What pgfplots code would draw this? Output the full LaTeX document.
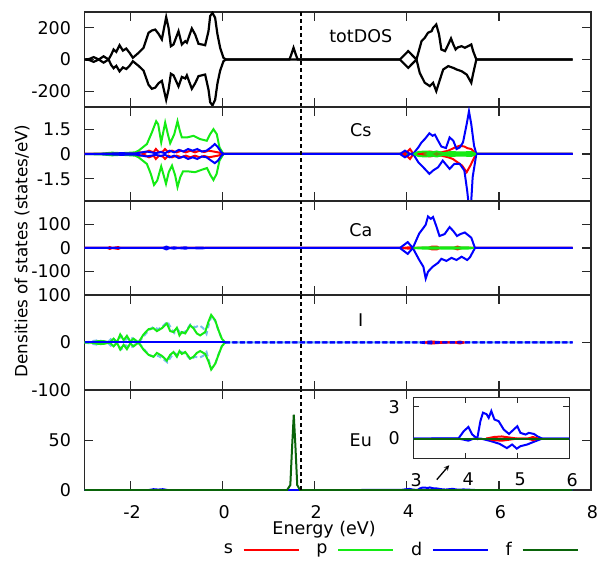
\documentclass[border=0pt]{standalone}
\usepackage{fontspec}
\setmainfont{DejaVu Sans}
\usepackage{pgfplots}
\pgfplotsset{compat=1.18}
\usepackage{pgfplotstable}
\definecolor{cS}{RGB}{255,0,0}
\definecolor{cP}{RGB}{20,235,20}
\definecolor{cD}{RGB}{0,0,255}
\definecolor{cF}{RGB}{10,100,10}
\definecolor{cL}{RGB}{120,190,235}
\definecolor{axc}{RGB}{40,40,40}
\newcommand{\fs}{\fontsize{17.5}{21}\selectfont}

\pgfplotstableread{
x y
3.0 0
3.87 0.02
3.97 0.7
4.06 1.1
4.13 0.4
4.23 0
4.29 1.65
4.34 2.45
4.41 2.3
4.45 1.96
4.50 2.6
4.56 1.8
4.64 1.65
4.74 0.85
4.84 0.44
4.93 0.85
5.00 1.17
5.06 0.54
5.16 0.38
5.22 0.54
5.32 0.44
5.39 0.2
5.48 0
7.6 0
}\EuDup
\pgfplotstableread{
x y
3.0 0
3.87 0
3.97 -0.1
4.06 -0.2
4.16 0
4.30 0
4.50 -0.25
4.66 -0.5
4.80 -0.9
4.90 -0.56
4.99 -0.95
5.06 -0.72
5.19 -0.56
5.32 -0.3
5.48 0
7.6 0
}\EuDdn

\pgfplotsset{
 panel/.style={
  scale only axis, width=506.5pt, anchor=south west,
  xmin=-3, xmax=8, xtick={-2,0,2,4,6,8}, xticklabels={},
  tick align=inside, major tick length=9pt,
  axis line style={line width=1.2pt, axc},
  tick style={line width=1.2pt, axc},
  tick label style={font=\fs, inner sep=0pt},
  yticklabel style={xshift=-13.3pt},
  xticklabel style={yshift=-15pt, xshift=1.5pt},
  every axis plot/.append style={line width=2pt},
 },
 fermi/.style={black, line width=1.8pt, dash pattern=on 4pt off 3pt},
}

\begin{document}
\fs
\begin{tikzpicture}
\path[use as bounding box] (0,0) rectangle (600pt,560pt);

% ---------------- totDOS ----------------
\begin{axis}[panel, at={(84.5pt,453pt)}, height=95pt,
  ymin=-300, ymax=300, ytick={-200,0,200}, yticklabels={-200,0,200}]
\addplot[black, line width=2.2pt] coordinates {(-3,0)(-2.9,3)(-2.8,15)(-2.69,0)(-2.585,20)(-2.477,0)(-2.42,30)(-2.368,63)(-2.31,48)(-2.238,90)(-2.166,56)(-2.093,69)(-2.021,42)(-1.949,11)(-1.826,42)(-1.718,74)(-1.609,169)(-1.537,183)(-1.464,189)(-1.392,162)(-1.32,127)(-1.226,268)(-1.175,200)(-1.124,84)(-1.067,95)(-0.958,179)(-0.886,95)(-0.813,116)(-0.777,106)(-0.669,196)(-0.597,158)(-0.524,99)(-0.452,95)(-0.38,90)(-0.307,179)(-0.271,274)(-0.221,295)(-0.163,263)(-0.112,158)(-0.054,74)(0.018,11)(0.07,0)(1.45,0)(1.49,30)(1.54,74)(1.59,30)(1.63,0)(3.85,0)(4.03,53)(4.21,0)(4.32,116)(4.39,137)(4.46,169)(4.54,179)(4.57,200)(4.64,221)(4.70,158)(4.75,63)(4.83,53)(4.90,95)(4.96,133)(5.01,95)(5.06,63)(5.11,77)(5.19,84)(5.26,74)(5.33,84)(5.40,95)(5.44,53)(5.51,0)(7.6,0)};
\addplot[black, line width=2.2pt] coordinates {(-3,0)(-2.9,-3)(-2.8,-15)(-2.69,0)(-2.585,-20)(-2.477,0)(-2.42,-35)(-2.368,-55)(-2.31,-40)(-2.238,-75)(-2.166,-50)(-2.093,-60)(-2.021,-40)(-1.949,-11)(-1.826,-40)(-1.718,-70)(-1.609,-160)(-1.537,-185)(-1.464,-178)(-1.392,-150)(-1.32,-135)(-1.226,-255)(-1.175,-190)(-1.124,-90)(-1.067,-100)(-0.958,-170)(-0.886,-110)(-0.813,-120)(-0.777,-100)(-0.669,-185)(-0.597,-150)(-0.524,-105)(-0.452,-100)(-0.38,-95)(-0.307,-190)(-0.271,-270)(-0.221,-290)(-0.163,-255)(-0.112,-150)(-0.054,-70)(0.018,-11)(0.07,0)(3.85,0)(4.03,-53)(4.21,0)(4.28,-84)(4.39,-147)(4.50,-168)(4.57,-147)(4.64,-200)(4.72,-126)(4.79,-63)(4.90,-42)(5.01,-53)(5.08,-63)(5.19,-74)(5.30,-95)(5.40,-147)(5.44,-90)(5.51,0)(7.6,0)};
\addplot[fermi] coordinates {(1.7,-300)(1.7,300)};
\node at (axis cs:3,147) {totDOS};
\end{axis}

% ---------------- Cs ----------------
\begin{axis}[panel, at={(84.5pt,359pt)}, height=94pt,
  ymin=-2.84, ymax=2.84, ytick={-1.5,0,1.5}, yticklabels={-1.5,0,1.5}]
\addplot[cP] coordinates {(-3,0)(-2.6,0.03)(-2.4,0.08)(-2.2,0.05)(-2.0,0.08)(-1.9,0.1)(-1.826,0.2)(-1.645,0.6)(-1.537,1.3)(-1.443,1.98)(-1.40,1.8)(-1.334,0.7)(-1.248,1.9)(-1.19,1.2)(-1.139,0.65)(-1.05,1.2)(-0.98,1.98)(-0.93,1.4)(-0.886,1.0)(-0.777,1.0)(-0.633,1.1)(-0.488,0.9)(-0.343,0.8)(-0.271,1.2)(-0.199,1.5)(-0.127,1.2)(-0.069,0.4)(0.018,0)(7.6,0)};
\addplot[cP] coordinates {(-3,0)(-2.6,-0.03)(-2.4,-0.08)(-2.2,-0.05)(-2.0,-0.08)(-1.9,-0.1)(-1.826,-0.2)(-1.645,-0.6)(-1.56,-1.2)(-1.49,-1.87)(-1.42,-1.6)(-1.334,-0.75)(-1.23,-1.8)(-1.17,-1.1)(-1.10,-0.7)(-1.03,-1.3)(-0.98,-2.0)(-0.92,-1.4)(-0.86,-1.05)(-0.75,-1.05)(-0.6,-1.1)(-0.45,-0.95)(-0.34,-0.85)(-0.27,-1.25)(-0.2,-1.57)(-0.13,-1.2)(-0.069,-0.4)(0.018,0)(7.6,0)};
\addplot[cS] coordinates {(-3,0)(-1.9,0)(-1.8,0.1)(-1.7,0.05)(-1.6,0.2)(-1.5,0.1)(-1.45,0.3)(-1.38,0.1)(-1.3,0.15)(-1.25,0.3)(-1.18,0.1)(-1.1,0.2)(-1.0,0.1)(-0.9,0.2)(-0.8,0.1)(-0.7,0.2)(-0.6,0.1)(-0.5,0.2)(-0.4,0.12)(-0.3,0.2)(-0.2,0.15)(-0.1,0.1)(0.02,0)(3.9,0)(4.0,0.1)(4.07,0.3)(4.14,0)(4.3,0.05)(4.5,0.15)(4.6,0.1)(4.75,0.1)(4.9,0.2)(5.05,0.4)(5.15,0.5)(5.25,0.45)(5.32,0.35)(5.4,0.3)(5.5,0)(7.6,0)};
\addplot[cS] coordinates {(-3,0)(-1.9,0)(-1.8,-0.1)(-1.7,-0.05)(-1.6,-0.2)(-1.5,-0.1)(-1.45,-0.3)(-1.38,-0.1)(-1.3,-0.15)(-1.25,-0.3)(-1.18,-0.1)(-1.1,-0.2)(-1.0,-0.1)(-0.9,-0.2)(-0.8,-0.1)(-0.7,-0.2)(-0.6,-0.1)(-0.5,-0.2)(-0.4,-0.12)(-0.3,-0.2)(-0.2,-0.15)(-0.1,-0.1)(0.02,0)(3.9,0)(4.0,-0.1)(4.07,-0.3)(4.14,0)(4.3,-0.05)(4.5,-0.15)(4.6,-0.1)(4.75,-0.1)(4.9,-0.2)(5.0,-0.3)(5.1,-0.5)(5.2,-0.7)(5.3,-1.1)(5.38,-0.7)(5.45,-0.3)(5.5,0)(7.6,0)};
\addplot[cD] coordinates {(-3,0)(-2.5,0.02)(-2.2,0.05)(-1.9,0.03)(-1.75,0.1)(-1.65,0.15)(-1.55,0.1)(-1.45,0.05)(-1.35,0.12)(-1.25,0.05)(-1.15,0.2)(-1.05,0.1)(-0.95,0.25)(-0.85,0.15)(-0.75,0.3)(-0.65,0.2)(-0.55,0.3)(-0.45,0.15)(-0.35,0.2)(-0.25,0.4)(-0.17,0.6)(-0.1,0.4)(-0.03,0.1)(0.02,0)(3.85,0)(3.96,0.2)(4.07,0)(4.15,0.05)(4.25,0.4)(4.32,0.7)(4.39,0.9)(4.49,1.25)(4.56,1.1)(4.61,1.17)(4.68,0.8)(4.75,0.45)(4.85,0.36)(4.93,1.0)(5.01,0.8)(5.08,0.3)(5.15,0.4)(5.22,0.7)(5.30,1.8)(5.35,2.58)(5.40,1.8)(5.46,0.5)(5.51,0)(7.6,0)};
\addplot[cD] coordinates {(-3,0)(-2.5,-0.02)(-2.2,-0.05)(-1.9,-0.03)(-1.75,-0.1)(-1.65,-0.15)(-1.55,-0.1)(-1.45,-0.05)(-1.35,-0.12)(-1.25,-0.05)(-1.15,-0.2)(-1.05,-0.1)(-0.95,-0.25)(-0.85,-0.15)(-0.75,-0.3)(-0.65,-0.2)(-0.55,-0.3)(-0.45,-0.15)(-0.35,-0.2)(-0.25,-0.4)(-0.17,-0.55)(-0.1,-0.4)(-0.03,-0.1)(0.02,0)(3.85,0)(3.96,-0.2)(4.07,0)(4.15,-0.05)(4.25,-0.5)(4.39,-0.9)(4.49,-1.2)(4.57,-1.0)(4.68,-0.8)(4.78,-0.4)(4.93,-0.9)(5.03,-0.6)(5.15,-0.6)(5.25,-1.0)(5.31,-2.2)(5.35,-3.2)(5.40,-2.8)(5.43,-1.4)(5.51,0)(7.6,0)};
\addplot[cP] coordinates {(4.15,0)(4.25,0.12)(4.4,0.15)(4.55,0.1)(4.65,0.15)(4.8,0.05)(4.95,0.12)(5.1,0.1)(5.25,0.1)(5.4,0.12)(5.5,0)};
\addplot[cP] coordinates {(4.15,0)(4.25,-0.12)(4.4,-0.15)(4.55,-0.1)(4.65,-0.15)(4.8,-0.05)(4.95,-0.12)(5.1,-0.1)(5.25,-0.1)(5.4,-0.12)(5.5,0)};
\addplot[fermi] coordinates {(1.7,-3)(1.7,3)};
\node at (axis cs:3,1.45) {Cs};
\end{axis}

% ---------------- Ca ----------------
\begin{axis}[panel, at={(84.5pt,265pt)}, height=94pt,
  ymin=-200, ymax=200, ytick={-100,0,100}, yticklabels={-100,0,100}]
\addplot[cS] coordinates {(-3,0)(-2.5,0)(-2.45,4)(-2.4,0)(-2.27,4)(-2.22,0)(3.9,0)(4.05,3)(4.2,0)(4.45,0)(4.55,6)(4.65,6)(4.72,0)(5.0,0)(5.1,6)(5.2,0)(7.6,0)};
\addplot[cS] coordinates {(-3,0)(-2.5,0)(-2.45,-4)(-2.4,0)(-2.27,-4)(-2.22,0)(3.9,0)(4.05,-3)(4.2,0)(4.45,0)(4.55,-6)(4.65,-6)(4.72,0)(5.0,0)(5.1,-6)(5.2,0)(7.6,0)};
\addplot[cD] coordinates {(-3,0)(-1.3,0)(-1.22,6)(-1.15,0)(-1.05,3)(-0.97,0)(-0.8,3)(-0.75,0)(-0.45,2)(-0.38,0)(3.85,0)(4.02,25)(4.13,0)(4.27,62)(4.34,80)(4.41,99)(4.46,134)(4.52,124)(4.57,132)(4.64,93)(4.71,51)(4.82,59)(4.93,89)(5.01,72)(5.09,51)(5.16,59)(5.26,66)(5.33,55)(5.40,44)(5.48,0)(7.6,0)};
\addplot[cD] coordinates {(-3,0)(-1.3,0)(-1.22,-6)(-1.15,0)(-1.05,-3)(-0.97,0)(-0.8,-3)(-0.75,0)(-0.45,-2)(-0.38,0)(3.85,0)(4.02,-25)(4.13,0)(4.27,-51)(4.36,-80)(4.41,-130)(4.46,-101)(4.56,-80)(4.68,-63)(4.75,-46)(4.86,-55)(4.97,-42)(5.08,-51)(5.19,-37)(5.31,-51)(5.37,-40)(5.48,0)(7.6,0)};
\addplot[cP] coordinates {(4.15,0)(4.3,2)(4.5,3)(4.7,2)(4.9,3)(5.1,2)(5.3,3)(5.45,0)};
\addplot[cP] coordinates {(4.15,0)(4.3,-2)(4.5,-3)(4.7,-2)(4.9,-3)(5.1,-2)(5.3,-3)(5.45,0)};
\addplot[fermi] coordinates {(1.7,-200)(1.7,200)};
\node at (axis cs:3,77) {Ca};
\end{axis}

% ---------------- I ----------------
\begin{axis}[panel, at={(84.5pt,170pt)}, height=95pt,
  ymin=-100, ymax=100, ytick={-100,0,100}, yticklabels={-100,0,100}]
\addplot[cL, dash pattern=on 5pt off 3pt] coordinates {(-3,0)(-2.7,5)(-2.5,0)(-2.4,10)(-2.3,2)(-2.2,14)(-2.1,6)(-2.0,12)(-1.9,4)(-1.8,3)(-1.7,15)(-1.6,26)(-1.5,33)(-1.4,28)(-1.3,34)(-1.2,44)(-1.12,30)(-1.05,20)(-0.98,28)(-0.9,18)(-0.8,24)(-0.7,38)(-0.6,32)(-0.5,36)(-0.42,30)(-0.35,18)(-0.28,45)(-0.24,56)(-0.16,45)(-0.09,25)(-0.02,8)(0.05,0)(7.6,0)};
\addplot[cL, dash pattern=on 5pt off 3pt] coordinates {(-3,0)(-2.7,-5)(-2.5,0)(-2.4,-10)(-2.3,-2)(-2.2,-14)(-2.1,-6)(-2.0,-12)(-1.9,-4)(-1.8,-3)(-1.7,-15)(-1.6,-26)(-1.5,-30)(-1.4,-28)(-1.3,-34)(-1.2,-42)(-1.12,-30)(-1.05,-22)(-0.98,-26)(-0.9,-20)(-0.8,-24)(-0.7,-36)(-0.6,-30)(-0.5,-32)(-0.42,-28)(-0.35,-20)(-0.28,-45)(-0.24,-55)(-0.16,-45)(-0.09,-25)(-0.02,-8)(0.05,0)(7.6,0)};
\addplot[cP] coordinates {(-3,0)(-2.87,0)(-2.7,3)(-2.585,3)(-2.45,0)(-2.368,8)(-2.296,0)(-2.224,17)(-2.15,5)(-2.079,14)(-2.007,2)(-1.935,8)(-1.826,0)(-1.718,17)(-1.609,28)(-1.5,30)(-1.428,24)(-1.32,30)(-1.211,40)(-1.139,24)(-1.067,22)(-0.994,31)(-0.937,15)(-0.886,22)(-0.813,19)(-0.705,36)(-0.633,30)(-0.56,19)(-0.488,15)(-0.38,22)(-0.307,44)(-0.249,58)(-0.163,47)(-0.09,26)(-0.018,8)(0.054,0)};
\addplot[cP] coordinates {(-3,0)(-2.87,0)(-2.7,-3)(-2.585,-3)(-2.45,0)(-2.368,-8)(-2.296,0)(-2.224,-15)(-2.15,-5)(-2.079,-14)(-2.007,-2)(-1.935,-8)(-1.826,0)(-1.718,-15)(-1.609,-26)(-1.5,-30)(-1.428,-22)(-1.32,-28)(-1.211,-38)(-1.139,-26)(-1.067,-20)(-0.994,-30)(-0.937,-18)(-0.886,-24)(-0.813,-20)(-0.705,-34)(-0.633,-30)(-0.56,-22)(-0.488,-18)(-0.38,-24)(-0.307,-40)(-0.249,-57)(-0.163,-45)(-0.09,-26)(-0.018,-8)(0.054,0)};
\addplot[cS] coordinates {(4.4,0)(4.55,2)(4.7,1)(4.85,0)(5.05,0)(5.15,2)(5.25,0)};
\addplot[cS] coordinates {(4.4,0)(4.55,-2)(4.7,-1)(4.85,0)(5.05,0)(5.15,-2)(5.25,0)};
\addplot[cD] coordinates {(-3,0)(0.05,0)};
\addplot[cD, dash pattern=on 5pt off 2.5pt] coordinates {(0.05,0)(4.3,0)(4.4,1.5)(4.5,2)(4.6,1)(4.7,0)(7.6,0)};
\addplot[cD, dash pattern=on 5pt off 2.5pt] coordinates {(0.05,0)(4.3,0)(4.4,-1.5)(4.5,-2)(4.6,-1)(4.7,0)(7.6,0)};
\addplot[fermi] coordinates {(1.7,-100)(1.7,100)};
\node at (axis cs:3,48) {I};
\end{axis}

% ---------------- Eu ----------------
\begin{axis}[panel, at={(84.5pt,70pt)}, height=100pt,
  ymin=0, ymax=101, ytick={0,50}, yticklabels={0,50},
  xticklabels={-2,0,2,4,6,8},
  xlabel={Energy (eV)},
  xlabel style={at={(axis description cs:0.473,-0.40)}, anchor=center, font=\fs, inner sep=0pt},
  legend plot pos=right, legend columns=4,
  legend image code/.code={\draw[#1] (0pt,0pt) -- (55pt,0pt);},
  legend style={draw=none, fill=none, at={(0.623,-0.60)}, anchor=center,
    font=\fs, inner sep=1pt,
    /tikz/every odd column/.append style={column sep=8pt},
    /tikz/every even column/.append style={column sep=15pt}},
  ]
\addlegendimage{cS, line width=1.5pt}
\addlegendimage{cP, line width=1.5pt}
\addlegendimage{cD, line width=1.5pt}
\addlegendimage{cF, line width=1.5pt}
\legend{s,p,d,f}
\addplot[cD] coordinates {(-3,0)(-1.6,0)(-1.5,0.8)(-1.4,0.4)(-1.3,0.8)(-1.2,0)(7.6,0)};
\addplot[cD] table {\EuDup};
\addplot[cD] table {\EuDdn};
\addplot[cF] coordinates {(-3,0)(1.40,0)(1.47,5)(1.51,45)(1.545,76)(1.58,45)(1.62,5)(1.68,0)(7.6,0)};
\addplot[fermi] coordinates {(1.7,0)(1.7,101)};
\node at (axis cs:3,50.7) {Eu};
\draw[-stealth, line width=1.3pt] (axis cs:4.65,10.4) -- (axis cs:4.92,25);
\end{axis}

% ---------------- inset ----------------
\begin{axis}[scale only axis, anchor=south west, at={(413.3pt,101.3pt)},
  width=156pt, height=61.4pt,
  xmin=3, xmax=6, ymin=-1.9, ymax=3.9,
  xtick={3,4,5,6}, xticklabels={3,4,5,6},
  ytick={0,3}, yticklabels={0,3},
  tick align=inside, major tick length=6pt,
  axis line style={line width=1.2pt, axc},
  tick style={line width=1.2pt, axc},
  tick label style={font=\fs, inner sep=0pt},
  yticklabel style={xshift=-13.3pt},
  xticklabel style={yshift=-14.3pt, xshift=3pt},
  axis background/.style={fill=white},
  every axis plot/.append style={line width=2pt},
  ]
\addplot[cD] table {\EuDup};
\addplot[cD] table {\EuDdn};
\addplot[cS] coordinates {(4.4,0)(4.55,0.15)(4.7,0.2)(4.85,0.1)(5.0,0)(5.2,0)(5.3,0.15)(5.4,0)};
\addplot[cS] coordinates {(4.4,0)(4.55,-0.15)(4.7,-0.2)(4.85,-0.1)(5.0,0)(5.2,0)(5.3,-0.15)(5.4,0)};
\addplot[cF] coordinates {(3,0)(6,0)};
\end{axis}

\node[rotate=90, font=\fontsize{16.8}{20}\selectfont] at (22pt,309pt) {Densities of states (states/eV)};
\end{tikzpicture}
\end{document}
